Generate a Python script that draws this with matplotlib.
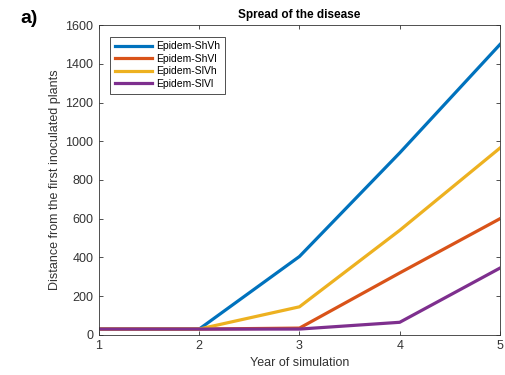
import matplotlib
matplotlib.use("Agg")
import matplotlib.pyplot as plt

years = [1, 2, 3, 4, 5]
shvh = [30, 30, 405, 940, 1500]
shvl = [30, 30, 35, 320, 600]
slvh = [30, 30, 145, 540, 965]
slvl = [30, 30, 30, 65, 345]
labels = ['Epidem-ShVh', 'Epidem-ShVl', 'Epidem-SlVh', 'Epidem-SlVl']
colors = ['#0072BD', '#D95319', '#EDB120', '#7E2F8E']

plt.rcParams['font.family'] = ['Liberation Sans', 'DejaVu Sans']

fig = plt.figure(figsize=(5.05, 3.75), dpi=100)
ax = fig.add_axes([0.196, 0.107, 0.794, 0.826])

for ys, lab, c in zip([shvh, shvl, slvh, slvl], labels, colors):
    ax.plot(years, ys, color=c, lw=2.3, label=lab)

ax.set_xlim(1, 5)
ax.set_ylim(0, 1600)
ax.set_xticks(years)
ax.set_yticks(range(0, 1601, 200))
ax.tick_params(direction='in', top=True, right=True, labelsize=9, colors='#333333',
               length=3, width=0.6, pad=4)
for s in ax.spines.values():
    s.set_color('#333333')
    s.set_linewidth(0.6)

ax.set_xlabel('Year of simulation', fontsize=9, color='#333333', labelpad=3)
ax.set_ylabel('Distance from the first inoculated plants', fontsize=9, color='#333333',
              labelpad=3)
ax.set_title('Spread of the disease', fontsize=8.5, fontweight='bold', pad=5)

leg = ax.legend(loc='upper left', fontsize=7.5, handlelength=3.6, handletextpad=0.4,
                borderpad=0.45, labelspacing=0.25, fancybox=False, framealpha=1,
                bbox_to_anchor=(0.015, 0.98))
leg.get_frame().set_edgecolor('#333333')
leg.get_frame().set_linewidth(0.6)

fig.text(0.04, 0.95, 'a)', fontsize=14, fontweight='bold', ha='left', va='center')

fig.savefig('out.png', dpi=100)
